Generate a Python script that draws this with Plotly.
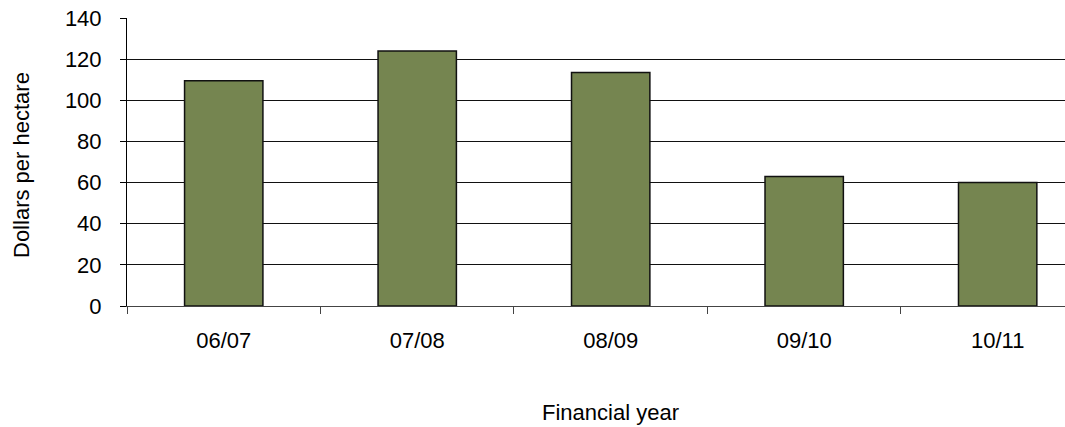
import plotly.graph_objects as go

# Average cost per hectare by financial year
years = ["06/07", "07/08", "08/09", "09/10", "10/11"]
dollars_per_ha = [109.5, 124, 113.5, 63, 60]

FONT = "Liberation Sans, Arial, sans-serif"
FS = 22

fig = go.Figure(
    go.Bar(
        x=years,
        y=dollars_per_ha,
        marker=dict(color="#758550", line=dict(color="#111111", width=1.5)),
        width=0.405,
    )
)

fig.update_layout(
    width=1065,
    height=427,
    margin=dict(l=127, r=0, t=18, b=121),
    paper_bgcolor="white",
    plot_bgcolor="white",
    showlegend=False,
    font=dict(family=FONT, size=FS, color="black"),
)

fig.update_yaxes(
    range=[0, 140],
    dtick=20,
    showgrid=True,
    gridcolor="#111111",
    gridwidth=1,
    showline=True,
    linecolor="black",
    linewidth=1,
    ticks="outside",
    ticklen=6,
    tickcolor="black",
    ticklabelstandoff=14,
    tickfont=dict(family=FONT, size=FS),
    zeroline=False,
)

fig.update_xaxes(
    type="category",
    range=[-0.5, 4.348],
    showgrid=False,
    showline=True,
    linecolor="#444444",
    linewidth=1,
    ticks="outside",
    tickson="boundaries",
    ticklen=7,
    tickcolor="#444444",
    ticklabelstandoff=15,
    tickfont=dict(family=FONT, size=FS),
)

fig.add_annotation(
    text="Financial year", xref="paper", yref="paper",
    x=(610 - 127) / 938, y=-(412 - 306) / 288,
    showarrow=False, xanchor="center", yanchor="middle",
    font=dict(family=FONT, size=FS),
)
fig.add_annotation(
    text="Dollars per hectare", xref="paper", yref="paper",
    x=-(127 - 21) / 938, y=(306 - 165) / 288,
    textangle=-90,
    showarrow=False, xanchor="center", yanchor="middle",
    font=dict(family=FONT, size=FS),
)

fig.write_html("out.html")
